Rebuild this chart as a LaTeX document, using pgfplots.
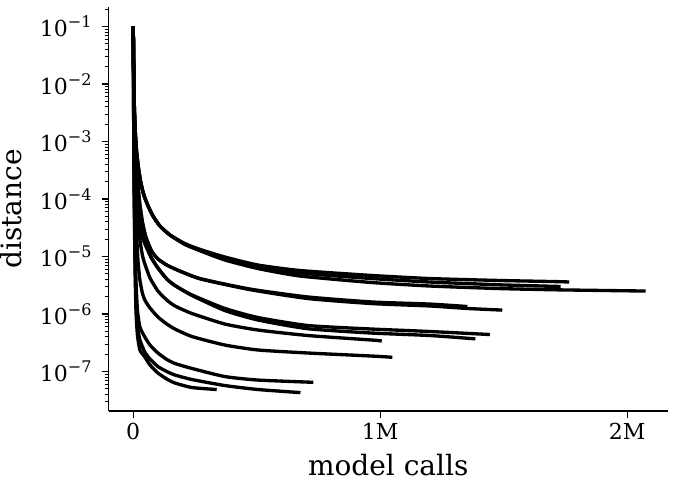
\documentclass[border=0pt]{standalone}
\usepackage{fontspec}
\setmainfont{DejaVu Serif}
\usepackage{pgfplots}
\pgfplotsset{compat=1.18}

% tick label 10^-n in the text font
\newcommand{\tl}[1]{10\raisebox{0.42em}{\fontsize{12}{13}\selectfont −#1}}

\begin{document}
\begin{tikzpicture}
\begin{axis}[
    scale only axis,
    width=419.6pt, height=303pt,
    ymode=log,
    xmin=-0.1, xmax=2.165,
    ymin=2.06e-8, ymax=0.218,
    axis x line*=bottom, axis y line*=left,
    axis line style={line width=1pt, -},
    tick align=outside,
    major tick length=5.25pt, minor tick length=3pt,
    every major tick/.style={black, line width=0.9pt},
    every minor tick/.style={black, line width=0.7pt},
    xtick={0,1,2}, xticklabels={0,1M,2M},
    ytick={1e-7,1e-6,1e-5,1e-4,1e-3,1e-2,1e-1},
    yticklabels={\tl{7},\tl{6},\tl{5},\tl{4},\tl{3},\tl{2},\tl{1}},
    minor ytick={3e-8,4e-8,5e-8,6e-8,7e-8,8e-8,9e-8,
                 2e-7,3e-7,4e-7,5e-7,6e-7,7e-7,8e-7,9e-7,
                 2e-6,3e-6,4e-6,5e-6,6e-6,7e-6,8e-6,9e-6,
                 2e-5,3e-5,4e-5,5e-5,6e-5,7e-5,8e-5,9e-5,
                 2e-4,3e-4,4e-4,5e-4,6e-4,7e-4,8e-4,9e-4,
                 2e-3,3e-3,4e-3,5e-3,6e-3,7e-3,8e-3,9e-3,
                 2e-2,3e-2,4e-2,5e-2,6e-2,7e-2,8e-2,9e-2,2e-1},
    tick label style={font=\fontsize{16.5}{19}\selectfont},
    yticklabel style={xshift=-4pt},
    label style={font=\fontsize{21}{25}\selectfont},
    xlabel={model calls}, ylabel={distance},
    ylabel style={at={(axis description cs:-0.174,0.5)}, anchor=center, inner sep=0pt},
    xlabel style={at={(axis description cs:0.5,0)}, anchor=base, yshift=-48pt, inner sep=0pt},
    cycle list={{black}},
    every axis plot/.append style={line width=2.5pt, smooth, tension=0.35},
    no markers,
]
\coordinate (sw) at (rel axis cs:0,0);
\coordinate (ne) at (rel axis cs:1,1);
% top group
\addplot coordinates {(0,0.1)(0.0028,7.9e-3)(0.0069,1.94e-3)(0.013,7.1e-4)(0.021,3.46e-4)(0.031,1.9e-4)(0.043,1.17e-4)(0.06,7.6e-5)(0.08,5.06e-5)(0.108,3.39e-5)(0.149,2.36e-5)(0.209,1.68e-5)(0.27,1.33e-5)(0.371,9.8e-6)(0.505,7.11e-6)(0.675,5.71e-6)(0.966,4.68e-6)(1.201,4.14e-6)(1.484,3.83e-6)(1.727,3.65e-6)(1.765,3.6e-6)};
\addplot coordinates {(0,0.1)(0.0028,7.9e-3)(0.0069,1.94e-3)(0.013,7.1e-4)(0.021,3.46e-4)(0.031,1.9e-4)(0.043,1.17e-4)(0.06,7.6e-5)(0.08,5.06e-5)(0.108,3.39e-5)(0.149,2.36e-5)(0.209,1.65e-5)(0.27,1.3e-5)(0.371,9.2e-6)(0.505,6.7e-6)(0.675,5.16e-6)(0.966,4.14e-6)(1.201,3.6e-6)(1.484,3.22e-6)(1.730,3.01e-6)};
\addplot coordinates {(0,0.1)(0.0028,7.9e-3)(0.0069,1.94e-3)(0.013,7.1e-4)(0.021,3.46e-4)(0.031,1.9e-4)(0.043,1.17e-4)(0.06,7.6e-5)(0.08,5.06e-5)(0.108,3.39e-5)(0.149,2.36e-5)(0.209,1.62e-5)(0.27,1.26e-5)(0.371,8.7e-6)(0.505,6.18e-6)(0.675,4.58e-6)(0.966,3.53e-6)(1.201,3.07e-6)(1.484,2.77e-6)(1.727,2.63e-6)(2.074,2.51e-6)};
% second group
\addplot coordinates {(0,0.1)(0.0028,6.44e-3)(0.0069,1.58e-3)(0.013,4.77e-4)(0.019,1.75e-4)(0.027,7.87e-5)(0.037,3.98e-5)(0.051,2.18e-5)(0.074,1.25e-5)(0.1,9.05e-6)(0.136,7.11e-6)(0.169,6.07e-6)(0.27,4.14e-6)(0.472,2.72e-6)(0.707,1.98e-6)(0.966,1.62e-6)(1.201,1.49e-6)(1.353,1.35e-6)};
\addplot coordinates {(0,0.1)(0.0028,6.44e-3)(0.0069,1.58e-3)(0.013,4.77e-4)(0.019,1.75e-4)(0.027,7.87e-5)(0.037,3.98e-5)(0.051,2.18e-5)(0.074,1.25e-5)(0.1,9.05e-6)(0.136,7.11e-6)(0.169,6.07e-6)(0.27,4.1e-6)(0.472,2.66e-6)(0.707,1.86e-6)(0.966,1.52e-6)(1.201,1.38e-6)(1.351,1.25e-6)(1.494,1.17e-6)};
% third group
\addplot coordinates {(0,0.1)(0.0028,5.27e-3)(0.0069,1.06e-3)(0.013,2.61e-4)(0.019,9.6e-5)(0.027,4.31e-5)(0.039,2.1e-5)(0.055,1.41e-5)(0.074,9.4e-6)(0.1,6.31e-6)(0.136,4.06e-6)(0.169,3.13e-6)(0.238,2.14e-6)(0.371,1.25e-6)(0.505,8.69e-7)(0.707,6.31e-7)(0.966,5.48e-7)(1.201,4.97e-7)(1.444,4.4e-7)};
\addplot coordinates {(0,0.1)(0.0028,5.27e-3)(0.0069,1.06e-3)(0.013,2.61e-4)(0.019,9.6e-5)(0.027,4.31e-5)(0.039,2.1e-5)(0.055,1.41e-5)(0.074,9.4e-6)(0.1,6.31e-6)(0.136,4.06e-6)(0.169,3.13e-6)(0.238,2.1e-6)(0.371,1.15e-6)(0.505,7.87e-7)(0.707,5.55e-7)(0.966,4.67e-7)(1.201,4.23e-7)(1.385,3.7e-7)};
\addplot coordinates {(0,0.1)(0.0028,3.53e-3)(0.0069,4.77e-4)(0.013,1.17e-4)(0.019,4.31e-5)(0.027,1.94e-5)(0.037,1.06e-5)(0.047,7.41e-6)(0.068,4.23e-6)(0.1,2.51e-6)(0.136,1.75e-6)(0.169,1.38e-6)(0.238,1.02e-6)(0.371,6.7e-7)(0.505,5.27e-7)(0.707,4.23e-7)(0.966,3.53e-7)(1.006,3.4e-7)};
% lower curves
\addplot coordinates {(0,0.1)(0.0028,2.37e-3)(0.0069,2.14e-4)(0.013,2.89e-5)(0.019,8.69e-6)(0.027,3.9e-6)(0.037,2.32e-6)(0.047,1.75e-6)(0.068,1.27e-6)(0.1,8.87e-7)(0.136,6.7e-7)(0.169,5.48e-7)(0.238,4.06e-7)(0.371,2.89e-7)(0.505,2.37e-7)(0.707,2.1e-7)(0.966,1.86e-7)(1.049,1.77e-7)};
\addplot coordinates {(0,0.1)(0.0028,7.1e-4)(0.0069,2.89e-5)(0.011,3.9e-6)(0.017,1.17e-6)(0.027,5.94e-7)(0.047,3.98e-7)(0.068,2.89e-7)(0.1,2.1e-7)(0.136,1.62e-7)(0.169,1.38e-7)(0.238,1.13e-7)(0.371,8.18e-8)(0.505,7.11e-8)(0.729,6.5e-8)};
\addplot coordinates {(0,0.1)(0.0028,4.77e-4)(0.0069,1.3e-5)(0.011,1.75e-6)(0.017,6.44e-7)(0.027,3.53e-7)(0.047,2.18e-7)(0.068,1.65e-7)(0.1,1.22e-7)(0.136,1.0e-7)(0.169,8.69e-8)(0.238,7.26e-8)(0.371,5.71e-8)(0.505,4.87e-8)(0.677,4.3e-8)};
\addplot coordinates {(0,0.1)(0.0028,3.19e-4)(0.0069,8.69e-6)(0.011,1.17e-6)(0.017,4.31e-7)(0.027,2.37e-7)(0.047,1.79e-7)(0.068,1.3e-7)(0.1,9.42e-8)(0.136,7.41e-8)(0.169,6.31e-8)(0.238,5.27e-8)(0.338,4.87e-8)};
\end{axis}
\pgfresetboundingbox
\useasboundingbox ([shift={(-81.4pt,-54.75pt)}]sw) rectangle ([shift={(6.75pt,5.25pt)}]ne);
\end{tikzpicture}
\end{document}
